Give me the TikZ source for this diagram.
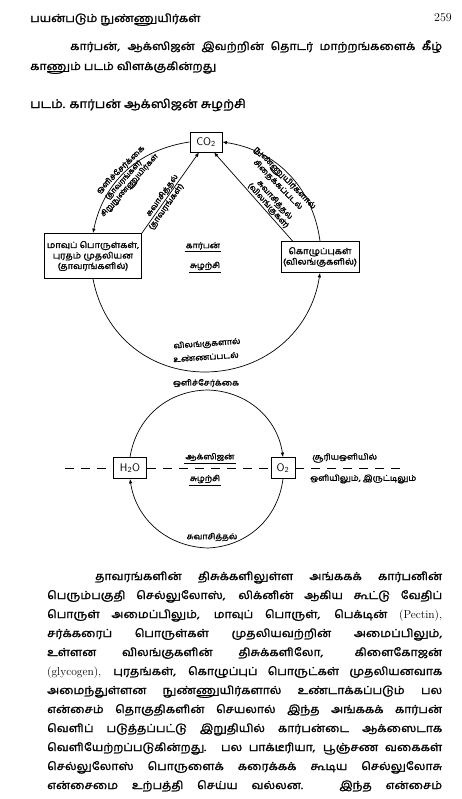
\documentclass[tikz,border=0pt]{standalone}
\usepackage{fontspec}
\newfontfamily\ta[Script=Tamil,FakeStretch=1.1,FakeBold=1.6]{Hind Madurai}
\usetikzlibrary{arrows.meta}
\begin{document}
\begin{tikzpicture}[x=1pt,y=1pt,
  box/.style={draw, line width=0.8pt, inner sep=2pt, align=center, font=\ta\fontsize{8.5}{10.5}\selectfont},
  chem/.style={draw, line width=0.8pt, inner sep=1pt, font=\sffamily\fontsize{11}{13}\selectfont},
  lbl/.style={inner sep=0.8pt, align=center, font=\ta\fontsize{7.8}{8.6}\selectfont},
  mid/.style={inner sep=1pt, font=\ta\fontsize{8}{9}\selectfont},
  arr/.style={line width=0.7pt, -{Latex[length=4.5pt,width=3.5pt]}},
  body/.style={anchor=base west, inner sep=0pt, font=\ta\fontsize{11}{13}\selectfont},
  ul/.style={line width=0.9pt}
]
\useasboundingbox[fill=white] (0,0) rectangle (462,-799);

% header
\node[body] (hdr) at (30,-22) {பயன்படும் நுண்ணுயிர்கள்};
\node[anchor=base east, inner sep=0pt, font=\fontsize{12}{14}\selectfont] (pg) at (452,-22) {259};

% intro paragraph
\node[body] (p1) at (70,-50) {\makebox[372pt][s]{கார்பன், ஆக்ஸிஜன் இவற்றின் தொடர் மாற்றங்களைக் கீழ்}};
\node[body] (p2) at (30,-70) {காணும் படம் விளக்குகின்றது};

% caption
\node[body, font=\ta\fontsize{12}{14}\selectfont] (cap) at (30,-108) {படம். கார்பன் ஆக்ஸிஜன் சுழற்சி};

% ---------- carbon cycle ----------
\node[chem, minimum width=32pt, minimum height=20pt] (co2) at (206,-142) {CO\textsubscript{2}};
\node[box, minimum width=97pt, minimum height=45pt] (lb) at (93,-256) {மாவுப் பொருள்கள்,\\புரதம் முதலியன\\(தாவரங்களில்)};
\node[box, minimum width=76pt, minimum height=31pt] (rb) at (320,-257) {கொழுப்புகள்\\(விலங்குகளில்)};
\coordinate (bbot) at (207,-372);

\draw[arr] (co2.west) to[bend right=35]
  node[lbl, sloped, above, pos=0.52] {ஒளிச்சேர்க்கை}
  node[lbl, sloped, below, pos=0.56, font=\ta\fontsize{7.2}{8}\selectfont] {(தாவரங்கள்)\\சிறுநுண்ணுயிர்கள்} (lb.north);
\draw[arr] (lb.south) to[bend right=40] (bbot) to[bend right=40] (rb.south);
\draw[arr] (rb.north) to[bend right=37]
  node[lbl, sloped, below, pos=0.5] {நுண்ணுயிர்களால்\\சிதைக்கப்படல்} (co2.east);
\draw[arr] (lb.north east) -- node[lbl, sloped, above, pos=0.43] {சுவாசித்தல்}
  node[lbl, sloped, below, pos=0.36] {(தாவரங்கள்)} ([xshift=-7pt]co2.south);
\draw[arr] ([xshift=12pt]rb.north west) --
  node[lbl, sloped, above, pos=0.36] {சுவாசித்தல்\\(விலங்குகள்)} ([xshift=8pt]co2.south);

\node[mid] (kc1) at (203,-246) {கார்பன்};
\draw[ul] ([yshift=-1pt]kc1.south west) -- ([yshift=-1pt]kc1.south east);
\node[mid] (kc2) at (205,-266) {சுழற்சி};
\draw[ul] ([yshift=-1pt]kc2.south west) -- ([yshift=-1pt]kc2.south east);

\node[mid, rotate=4] (eat1) at (207,-344) {விலங்குகளால்};
\node[mid, rotate=4] (eat2) at (206,-357) {உண்ணப்படல்};

% ---------- oxygen cycle ----------
\node[chem, minimum width=33pt, minimum height=21pt] (h2o) at (130,-468) {H\textsubscript{2}O};
\node[chem, minimum width=24pt, minimum height=21pt] (o2) at (283,-468) {O\textsubscript{2}};
\coordinate (ctop) at (208,-390);
\coordinate (cbot) at (208,-548);
\draw[arr] (h2o.north) to[bend left=40] (ctop) to[bend left=40] (o2.north);
\draw[arr] (o2.south) to[bend left=40] (cbot) to[bend left=40] (h2o.south);

\coordinate (dl) at (65,-468);
\coordinate (dr) at (405,-468);
\draw[dash pattern=on 9pt off 7pt, line width=0.8pt] (dl) -- (h2o.west) (h2o.east) -- (o2.west) (o2.east) -- (dr);

\node[mid] (ph2) at (206,-383) {ஒளிச்சேர்க்கை};
\node[mid] (oc1) at (210,-457) {ஆக்ஸிஜன்};
\draw[ul] ([yshift=-1pt]oc1.south west) -- ([yshift=-1pt]oc1.south east);
\node[mid] (oc2) at (205,-479) {சுழற்சி};
\draw[ul] ([yshift=-1pt]oc2.south west) -- ([yshift=-1pt]oc2.south east);
\node[mid, anchor=west] (sun) at (311,-458) {சூரியஒளியில்};
\node[mid, anchor=west] (dark) at (309,-479) {ஒளியிலும், இருட்டிலும்};
\node[mid] (resp2) at (212,-537) {சுவாசித்தல்};

% ---------- body text ----------
\node[body] (b1) at (95,-580) {\makebox[347pt][s]{தாவரங்களின் திசுக்களிலுள்ள அங்ககக் கார்பனின்}};
\node[body] (b2) at (47,-599) {\makebox[395pt][s]{பெரும்பகுதி செல்லுலோஸ், லிக்னின் ஆகிய கூட்டு வேதிப்}};
\node[body] (b3) at (47,-618) {\makebox[395pt][s]{பொருள் அமைப்பிலும், மாவுப் பொருள், பெக்டின் {\rmfamily\fontsize{11.5}{13}\selectfont (Pectin),}}};
\node[body] (b4) at (47,-637) {\makebox[395pt][s]{சர்க்கரைப் பொருள்கள் முதலியவற்றின் அமைப்பிலும்,}};
\node[body] (b5) at (47,-656) {\makebox[395pt][s]{உள்ளன விலங்குகளின் திசுக்களிலோ, கிளைகோஜன்}};
\node[body] (b6) at (47,-675) {\makebox[395pt][s]{{\rmfamily\fontsize{11.5}{13}\selectfont (glycogen),} புரதங்கள், கொழுப்புப் பொருட்கள் முதலியனவாக}};
\node[body] (b7) at (47,-694) {\makebox[395pt][s]{அமைந்துள்ளன நுண்ணுயிர்களால் உண்டாக்கப்படும் பல}};
\node[body] (b8) at (47,-713) {\makebox[395pt][s]{என்சைம் தொகுதிகளின் செயலால் இந்த அங்ககக் கார்பன்}};
\node[body] (b9) at (47,-732) {\makebox[395pt][s]{வெளிப் படுத்தப்பட்டு இறுதியில் கார்பன்டை ஆக்ஸைடாக}};
\node[body] (b10) at (47,-751) {\makebox[395pt][s]{வெளியேற்றப்படுகின்றது. பல பாக்டீரியா, பூஞ்சண வகைகள்}};
\node[body] (b11) at (47,-770) {\makebox[395pt][s]{செல்லுலோஸ் பொருளைக் கரைக்கக் கூடிய செல்லுலோசு}};
\node[body] (b12) at (47,-789) {\makebox[395pt][s]{என்சைமை உற்பத்தி செய்ய வல்லன. இந்த என்சைம்}};
\end{tikzpicture}
\end{document}
